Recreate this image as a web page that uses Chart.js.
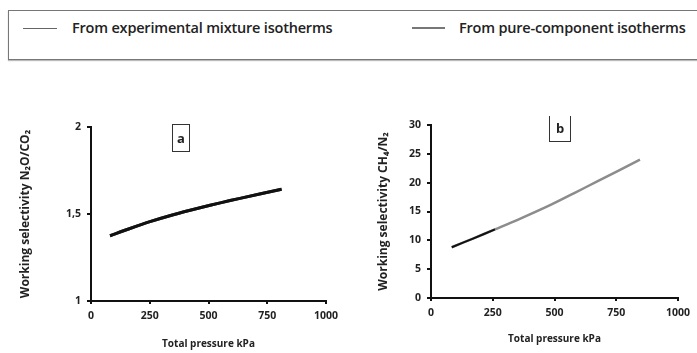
<!DOCTYPE html>
<html lang="en">
<head>
  <meta charset="UTF-8" />
  <title>Working selectivity vs total pressure</title>
  <script src="https://cdn.jsdelivr.net/npm/chart.js"></script>
  <style>
    html, body { margin: 0; padding: 0; background: #fff; }
    body { width: 697px; height: 353px; position: relative; overflow: hidden; font-family: "Open Sans", "Noto Sans", sans-serif; color: #222; }
    /* shared legend across both panels */
    .legend { position: absolute; left: 8px; top: 10px; width: 700px; height: 48px; border: 1px solid #777; box-shadow: 0 1px 1px #bbb; }
    .legend .item { position: absolute; top: 8px; font-size: 14.5px; font-weight: 600; line-height: 18px; white-space: nowrap; letter-spacing: -0.2px; }
    .legend .swatch { position: absolute; top: 17px; height: 0; }
    .tag { position: absolute; font: bold 13px "Open Sans", sans-serif; text-align: center; }
    .chart-wrap { position: absolute; top: 110px; height: 243px; }
  </style>
</head>
<body>
  <div class="legend">
    <div class="swatch" style="left:14px; width:34px; border-top:1px solid #666;"></div>
    <div class="item" style="left:63px;">From experimental mixture isotherms</div>
    <div class="swatch" style="left:403px; width:33px; border-top:2px solid #777; top:16px;"></div>
    <div class="item" style="left:450px;">From pure-component isotherms</div>
  </div>

  <div class="chart-wrap" style="left:0; width:345px;"><canvas id="chartA" width="345" height="243"></canvas></div>
  <div class="chart-wrap" style="left:350px; width:347px;"><canvas id="chartB" width="347" height="243"></canvas></div>

  <div class="tag" style="left:172px; top:124px; width:16px; height:26px; line-height:26px; border:1px solid #333;">a</div>
  <div class="tag" style="left:549px; top:116px; width:20px; height:25px; line-height:25px; border:1px solid #333; border-top:none;">b</div>

  <script>
    // panel a: N2O/CO2
    const pressureA = [81, 160, 251, 350, 464, 550, 634, 811];
    const mixtureA  = [1.375, 1.414, 1.456, 1.496, 1.536, 1.564, 1.590, 1.642];
    const pureA     = [1.375, 1.414, 1.456, 1.496, 1.536, 1.564, 1.590, 1.642];
    const yTicksA   = [1, 1.5, 2];

    // panel b: CH4/N2
    const pressureB = [84, 170, 259, 353, 482, 580, 677, 846];
    const mixtureB  = [8.8, 10.3, 11.9, null, null, null, null, null];
    const pureB     = [8.8, 10.3, 11.9, 13.6, 16.1, 18.2, 20.3, 24.0];
    const yTicksB   = [0, 5, 10, 15, 20, 25, 30];

    const xTicks = [0, 250, 500, 750, 1000];
    const xTitle = 'Total pressure kPa';

    const toPoints = (xs, ys) => xs.map((x, i) => ({ x: x, y: ys[i] }));
    const fmt = v => String(v).replace('.', ',');
    const FONT = 'Open Sans';

    function makeChart(id, cfg) {
      return new Chart(document.getElementById(id), {
        type: 'line',
        data: {
          datasets: [
            { label: 'From pure-component isotherms', data: toPoints(cfg.xs, cfg.pure),
              borderColor: cfg.pureColor, borderWidth: cfg.pureWidth, pointRadius: 0, tension: 0.3, order: 2 },
            { label: 'From experimental mixture isotherms', data: toPoints(cfg.xs, cfg.mix),
              borderColor: '#111', borderWidth: cfg.mixWidth, pointRadius: 0, tension: 0.3, spanGaps: false, order: 1 }
          ]
        },
        options: {
          responsive: false,
          animation: false,
          layout: { padding: cfg.padding },
          plugins: { legend: { display: false }, tooltip: { enabled: false } },
          scales: {
            x: {
              type: 'linear', min: 0, max: 1000,
              afterBuildTicks: s => { s.ticks = xTicks.map(v => ({ value: v })); },
              afterFit: s => { s.height = cfg.xHeight; },
              border: { display: true, color: '#111', width: 2 },
              grid: { display: true, drawOnChartArea: false, drawTicks: true, tickLength: 3, color: '#111', lineWidth: 2 },
              ticks: { color: '#222', padding: 6, maxRotation: 0, callback: v => String(v),
                       font: { family: FONT, size: 10.5, weight: 'bold' } },
              title: { display: true, text: xTitle, color: '#222', padding: { top: 0, bottom: cfg.xTitlePad },
                       font: { family: FONT, size: 10, weight: 'bold' } }
            },
            y: {
              type: 'linear', min: cfg.yTicks[0], max: cfg.yTicks[cfg.yTicks.length - 1],
              afterBuildTicks: s => { s.ticks = cfg.yTicks.map(v => ({ value: v })); },
              afterFit: s => { s.width = cfg.yWidth; },
              border: { display: true, color: '#111', width: 2 },
              grid: { display: true, drawOnChartArea: false, drawTicks: true, tickLength: 4, color: '#111', lineWidth: 2 },
              ticks: { color: '#222', padding: 6, callback: v => fmt(v), font: { family: FONT, size: 10.5, weight: 'bold' } },
              title: { display: true, text: cfg.yTitle, color: '#222', padding: { top: cfg.yTitlePad, bottom: 0 },
                       font: { family: FONT, size: 12, weight: 'bold' } }
            }
          }
        }
      });
    }

    makeChart('chartA', {
      xs: pressureA, mix: mixtureA, pure: pureA, yTicks: yTicksA,
      yTitle: 'Working selectivity N\u2082O/CO\u2082',
      mixWidth: 3, pureWidth: 3, pureColor: '#333',
      padding: { top: 17, right: 19, left: 0, bottom: 0 },
      yWidth: 91, xHeight: 52, xTitlePad: 3, yTitlePad: 18
    });

    makeChart('chartB', {
      xs: pressureB, mix: mixtureB, pure: pureB, yTicks: yTicksB,
      yTitle: 'Working selectivity CH\u2084/N\u2082',
      mixWidth: 2, pureWidth: 2.5, pureColor: '#8c8c8c',
      padding: { top: 15, right: 19, left: 0, bottom: 0 },
      yWidth: 81, xHeight: 55, xTitlePad: 8, yTitlePad: 26
    });
  </script>
</body>
</html>
